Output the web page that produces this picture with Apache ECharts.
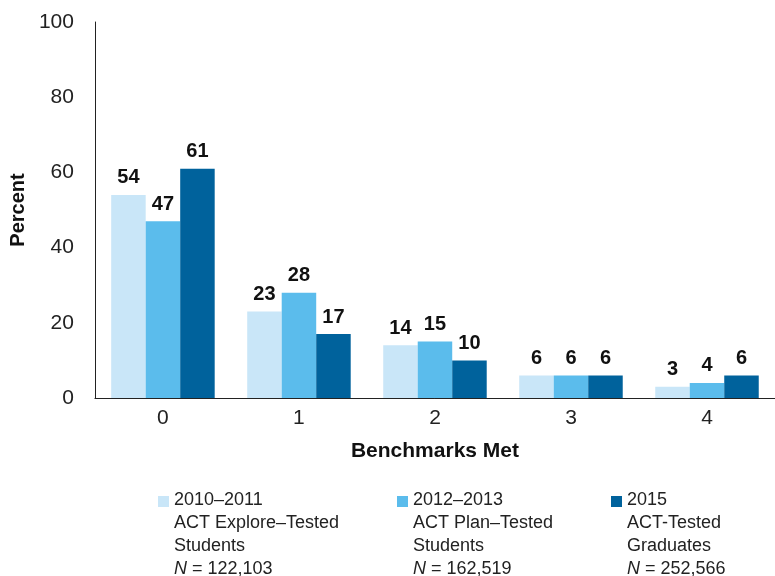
<!DOCTYPE html>
<html><head><meta charset="utf-8">
<script src="https://cdn.jsdelivr.net/npm/echarts@6/dist/echarts.min.js"></script>
<style>html,body{margin:0;padding:0;background:#fff}#c{width:775px;height:576px}</style>
</head><body><div id="c"></div>
<script>
var categories = ['0', '1', '2', '3', '4'];
var seriesNames = ['2010–2011', '2012–2013', '2015'];
var values2010 = [54, 23, 14, 6, 3];
var values2012 = [47, 28, 15, 6, 4];
var values2015 = [61, 17, 10, 6, 6];
var legendLines = [
  ['2010–2011', 'ACT Explore–Tested', 'Students', '122,103'],
  ['2012–2013', 'ACT Plan–Tested', 'Students', '162,519'],
  ['2015', 'ACT-Tested', 'Graduates', '252,566']
];
var colors = ['#c9e6f8', '#5bbcec', '#00629c'];
var yTicks = {min: 0, max: 100, interval: 20};

var FONT = 'Liberation Sans';
var allValues = [values2010, values2012, values2015];
var series = seriesNames.map(function (n, i) {
  return {
    name: n, type: 'bar', data: allValues[i],
    barWidth: 34.5, barGap: '0%',
    itemStyle: {color: colors[i]},
    label: {show: true, position: 'top', distance: 7, color: '#111',
      fontFamily: FONT, fontWeight: 'bold', fontSize: 20}
  };
});
var legendLefts = [158, 397, 611];
var legends = seriesNames.map(function (n, i) {
  var L = legendLines[i];
  return {
    data: [n], left: legendLefts[i], top: 491, padding: 0,
    itemWidth: 11, itemHeight: 11, icon: 'rect',
    formatter: function () {
      return '{a|' + L[0] + '}\n{a|' + L[1] + '}\n{a|' + L[2] + '}\n{i|N}{a| = ' + L[3] + '}';
    },
    textStyle: {
      padding: [66, 0, 0, 0],
      rich: {
        a: {fontFamily: FONT, fontSize: 18, color: '#222', lineHeight: 23},
        i: {fontFamily: FONT, fontSize: 18, color: '#222', lineHeight: 23, fontStyle: 'italic'}
      }
    }
  };
});
var chart = echarts.init(document.getElementById('c'));
chart.setOption({
  animation: false,
  grid: {left: 94, top: 22, width: 685, bottom: 178, containLabel: false},
  legend: legends,
  xAxis: {
    type: 'category', data: categories,
    name: 'Benchmarks Met', nameLocation: 'middle', nameGap: 43,
    nameTextStyle: {fontFamily: FONT, fontWeight: 'bold', fontSize: 21, color: '#111'},
    axisLine: {lineStyle: {color: '#222', width: 1}},
    axisTick: {show: false},
    axisLabel: {fontFamily: FONT, fontSize: 21, color: '#222', margin: 10}
  },
  yAxis: {
    type: 'value', min: yTicks.min, max: yTicks.max, interval: yTicks.interval,
    name: 'Percent', nameLocation: 'middle', nameGap: 61,
    nameTextStyle: {fontFamily: FONT, fontWeight: 'bold', fontSize: 20, color: '#111'},
    axisLine: {show: true, lineStyle: {color: '#222', width: 1}},
    axisTick: {show: false},
    splitLine: {show: false},
    axisLabel: {fontFamily: FONT, fontSize: 21, color: '#222', margin: 21}
  },
  series: series
});
</script></body></html>
